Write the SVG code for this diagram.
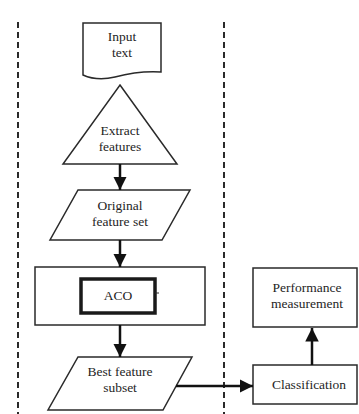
<svg xmlns="http://www.w3.org/2000/svg" width="359" height="414" viewBox="0 0 359 414">
  <style>
    .shape { fill: #ffffff; stroke: #2a2a2a; stroke-width: 1.5; }
    .thick { fill: #ffffff; stroke: #1a1a1a; stroke-width: 3.5; }
    .lbl { font-family: "Liberation Serif", "Times New Roman", "DejaVu Serif", serif; font-size: 13.5px; fill: #1e1e1e; text-anchor: middle; }
    .divider { stroke: #2a2a2a; stroke-width: 2; stroke-dasharray: 6 4; fill: none; }
    .conn { stroke: #111; stroke-width: 2.5; fill: none; }
  </style>
  <defs>
    <marker id="arrow" viewBox="0 0 10 10" refX="10" refY="5" markerWidth="5.4" markerHeight="5.4" orient="auto" markerUnits="strokeWidth">
      <path d="M0,0 L10,5 L0,10 z" fill="#111"/>
    </marker>
  </defs>
  <rect width="359" height="414" fill="#ffffff"/>

  <!-- lane dividers -->
  <g id="dividers">
    <line class="divider" x1="18" y1="22" x2="18" y2="414"/>
    <line class="divider" x1="224" y1="22" x2="224" y2="414"/>
  </g>

  <g id="input-text">
    <path class="shape" d="M83,23 H161 V72 C145,71 130,73 115,77 C103,80 92,79 83,75 Z"/>
    <text class="lbl" x="122" y="41">Input</text>
    <text class="lbl" x="122" y="57">text</text>
  </g>

  <g id="extract-features">
    <path class="shape" d="M120,85 L177,164 L63,164 Z"/>
    <text class="lbl" x="120" y="135">Extract</text>
    <text class="lbl" x="120" y="151">features</text>
  </g>

  <g id="original-feature-set">
    <path class="shape" d="M78,190 L190,190 L162,240 L50,240 Z"/>
    <text class="lbl" x="120" y="210">Original</text>
    <text class="lbl" x="120" y="226">feature set</text>
  </g>

  <g id="aco-stage">
    <rect class="shape" x="35" y="267" width="170" height="58"/>
    <rect class="thick" x="81" y="279" width="74" height="34"/>
    <line x1="155" y1="293" x2="159" y2="293" stroke="#2a2a2a" stroke-width="1"/>
    <text class="lbl" x="118" y="300">ACO</text>
  </g>

  <g id="best-feature-subset">
    <path class="shape" d="M78,357 L192,357 L163,410 L48,410 Z"/>
    <text class="lbl" x="120" y="376">Best feature</text>
    <text class="lbl" x="120" y="392">subset</text>
  </g>

  <g id="performance-measurement">
    <rect class="shape" x="253" y="268" width="104" height="59"/>
    <text class="lbl" x="307" y="292">Performance</text>
    <text class="lbl" x="307" y="308">measurement</text>
  </g>

  <g id="classification">
    <rect class="shape" x="253" y="365" width="104" height="39"/>
    <text class="lbl" x="309" y="389">Classification</text>
  </g>

  <g id="connectors">
    <line class="conn" x1="120" y1="164" x2="120" y2="190" marker-end="url(#arrow)"/>
    <line class="conn" x1="120" y1="240" x2="120" y2="267" marker-end="url(#arrow)"/>
    <line class="conn" x1="120" y1="325" x2="120" y2="357" marker-end="url(#arrow)"/>
    <line class="conn" x1="176" y1="386" x2="253" y2="386" marker-end="url(#arrow)"/>
    <line class="conn" x1="312" y1="365" x2="312" y2="328" marker-end="url(#arrow)"/>
  </g>
</svg>
